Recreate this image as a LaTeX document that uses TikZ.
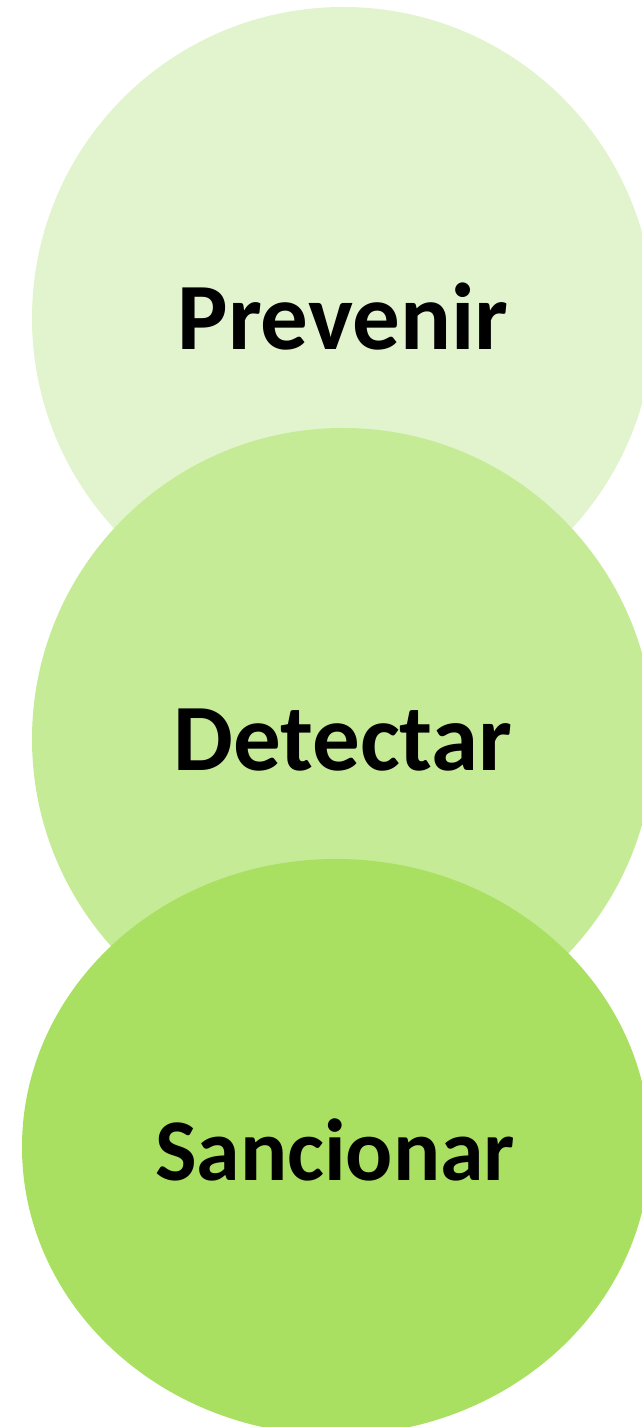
\documentclass[tikz,border=0pt]{standalone}
\usepackage{fontspec}
\setmainfont{Carlito}
\usepackage{xcolor}
\usepackage{tikz}
\usetikzlibrary{shapes.geometric,positioning}

\definecolor{greenA}{HTML}{E2F4CD}
\definecolor{greenB}{HTML}{C6EB97}
\definecolor{greenC}{HTML}{A9E062}

\begin{document}
\begin{tikzpicture}[
    x=1pt, y=1pt,
    disc/.style={circle, draw=none, minimum size=622pt, inner sep=0pt},
    oval/.style={ellipse, draw=none, minimum width=628pt, minimum height=576pt, inner sep=0pt},
    lbl/.style={font=\bfseries\fontsize{95}{100}\selectfont, text=black, anchor=base, inner sep=0pt},
    small/.style={font=\bfseries\fontsize{88}{92}\selectfont}
]
    \useasboundingbox (0,0) rectangle (642,1427);
    \clip (0,0) rectangle (642,1427);

    \node[disc, fill=greenA] (C1) at (343,1109) {};
    \node[disc, fill=greenB] (C2) at (343,688) {};
    \node[oval, fill=greenC] (C3) at (336,280) {};

    \node[lbl] (PRE) at ([yshift=-32pt]C1.center) {Prevenir};
    \node[lbl] (DET) at ([yshift=-32pt]C2.center) {Detectar};
    \node[lbl, small] (SAN) at ([yshift=-34pt, xshift=-1pt]C3.center) {Sancionar};
\end{tikzpicture}
\end{document}
